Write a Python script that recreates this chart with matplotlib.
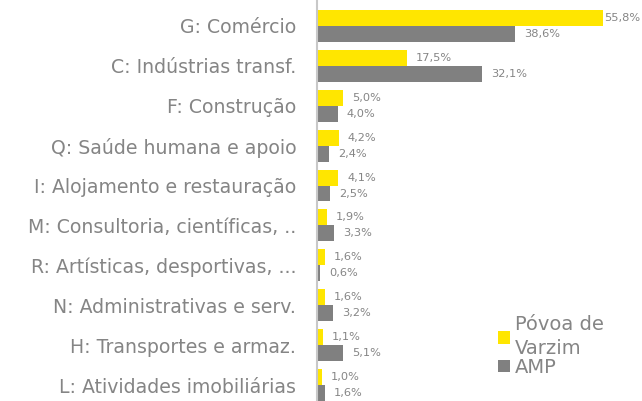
import matplotlib.pyplot as plt
import numpy as np

categories = [
    "G: Comércio",
    "C: Indústrias transf.",
    "F: Construção",
    "Q: Saúde humana e apoio",
    "I: Alojamento e restauração",
    "M: Consultoria, científicas, ..",
    "R: Artísticas, desportivas, ...",
    "N: Administrativas e serv.",
    "H: Transportes e armaz.",
    "L: Atividades imobiliárias",
]
povoa = [55.8, 17.5, 5.0, 4.2, 4.1, 1.9, 1.6, 1.6, 1.1, 1.0]
amp = [38.6, 32.1, 4.0, 2.4, 2.5, 3.3, 0.6, 3.2, 5.1, 1.6]
series_names = ["Póvoa de\nVarzim", "AMP"]

YELLOW = "#FFE600"
GREY = "#808080"
TEXT = "#858585"

plt.rcParams["font.family"] = ["DejaVu Sans"]

fig = plt.figure(figsize=(6.42, 4.01), dpi=100)
ax = fig.add_axes([317 / 642, 0, 1 - 317 / 642, 1])

y = np.arange(len(categories))
h = 0.4
b1 = ax.barh(y - h / 2, povoa, height=h, color=YELLOW, label=series_names[0])
b2 = ax.barh(y + h / 2, amp, height=h, color=GREY, label=series_names[1])

ax.set_ylim(9.39, -0.64)
ax.set_xlim(0, (642 - 317) / 5.13)

def fmt(v):
    return f"{v:.1f}%".replace(".", ",")

top = max(povoa + amp)
for bars, vals in ((b1, povoa), (b2, amp)):
    for bar, v in zip(bars, vals):
        off = 0.3 if v == top else 6.5
        ax.annotate(fmt(v), (v, bar.get_y() + bar.get_height() / 2),
                    xytext=(off, 0), textcoords="offset points",
                    ha="left", va="center", fontsize=8.2, color=TEXT)

ax.set_yticks(y)
ax.set_yticklabels(categories, fontsize=13.6, color=TEXT)
ax.tick_params(axis="y", length=0, pad=15)
ax.set_xticks([])
for s in ["top", "right", "bottom"]:
    ax.spines[s].set_visible(False)
ax.spines["left"].set_color("#C8C8C8")
ax.spines["left"].set_linewidth(1.5)

leg = ax.legend(loc="lower left", bbox_to_anchor=((488 - 317) / 325, 0.036),
                frameon=False, fontsize=14, handlelength=0.62, handleheight=0.62,
                handletextpad=0.26, borderpad=0, labelspacing=0.0)
for t in leg.get_texts():
    t.set_color(TEXT)
    t.set_linespacing(1.3)

fig.savefig("out.png", dpi=100)
